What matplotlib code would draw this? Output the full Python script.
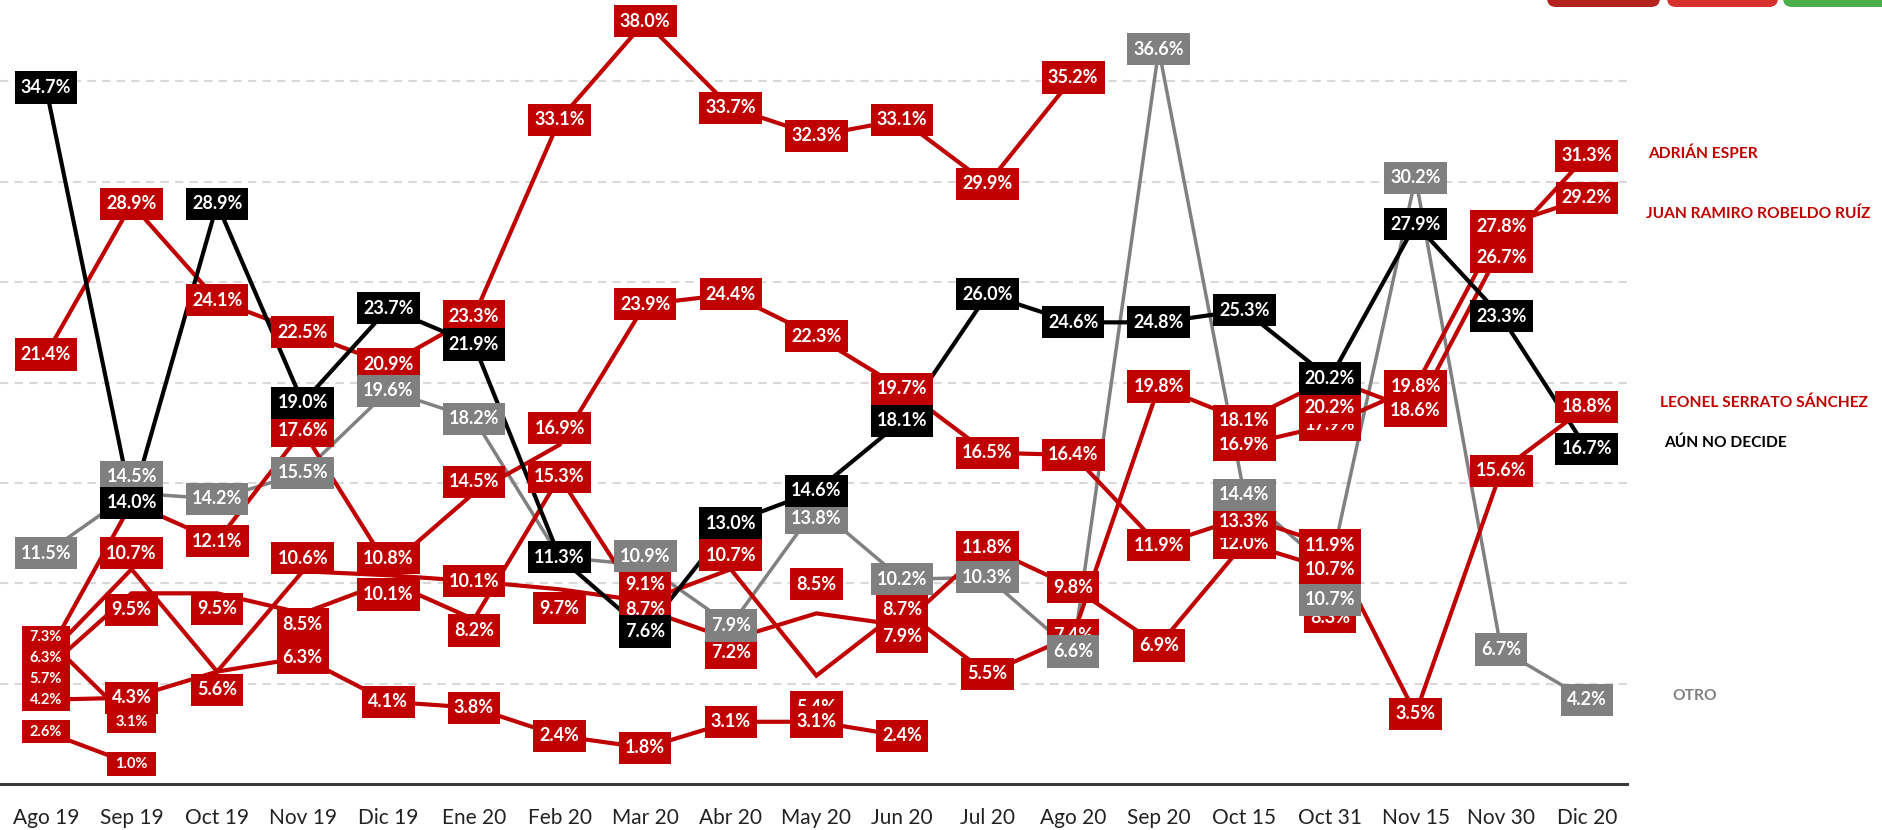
import numpy as np
import matplotlib
matplotlib.use('Agg')
import matplotlib.pyplot as plt
from matplotlib.path import Path
from matplotlib.patches import FancyBboxPatch
from matplotlib.transforms import IdentityTransform

plt.rcParams['font.family'] = ['Lato', 'DejaVu Sans']

nan = np.nan

# fechas de cada levantamiento
fechas = ['Ago 19', 'Sep 19', 'Oct 19', 'Nov 19', 'Dic 19', 'Ene 20', 'Feb 20', 'Mar 20', 'Abr 20',
          'May 20', 'Jun 20', 'Jul 20', 'Ago 20', 'Sep 20', 'Oct 15', 'Oct 31', 'Nov 15', 'Nov 30', 'Dic 20']

# porcentajes por serie (posicion en la grafica)
aun_no_decide = [34.7, 14.0, 28.9, 19.0, 23.7, 21.9, 11.3, 7.6, 13.0, 14.6, 18.1, 24.4, 23.0, 23.0, 23.6, 20.2, 27.9, 23.3, 16.7]
otro = [11.5, 14.5, 14.2, 15.5, 19.6, 18.2, 11.3, 10.9, 7.9, 13.8, 10.2, 10.3, 6.6, 36.6, 14.4, 10.7, 30.2, 6.7, 4.2]
adrian = [6.3, 10.7, 5.6, 10.6, 10.4, 10.1, 9.7, 9.1, 10.7, 5.4, 8.7, 5.5, 7.4, 19.8, 18.1, 20.2, 18.6, 26.7, 31.3]
juan = [nan, nan, nan, nan, nan, nan, nan, nan, nan, nan, nan, nan, nan, nan, 16.9, 17.9, 19.8, 27.8, 29.2]
leonel = [6.3, 14.0, 12.1, 17.6, 10.8, 14.5, 16.9, 23.9, 24.4, 22.3, 19.7, 16.5, 16.4, 11.9, 13.3, 11.9, 3.5, 15.6, 18.8]
rojo_1 = [21.4, 28.9, 24.1, 22.5, 20.9, 23.3, 33.1, 38.0, 33.7, 32.3, 33.1, 29.9, 35.2, nan, nan, nan, nan, nan, nan]
rojo_2 = [5.7, 9.5, 9.5, 8.5, 10.1, 8.2, 15.3, 8.7, 7.2, 8.5, 7.9, 11.8, 9.8, 6.9, 12.0, 10.7, nan, nan, nan]
rojo_3 = [4.2, 4.3, 5.6, 6.3, 4.1, 3.8, 2.4, 1.8, 3.1, 3.1, 2.4, nan, nan, nan, nan, nan, nan, nan, nan]
rojo_4 = [7.3, 3.1, nan, nan, nan, nan, nan, nan, nan, nan, nan, nan, nan, nan, nan, nan, nan, nan, nan]
rojo_5 = [2.6, 1.0, nan, nan, nan, nan, nan, nan, nan, nan, nan, nan, nan, nan, nan, nan, nan, nan, nan]
rojo_6 = [nan, nan, nan, nan, nan, nan, nan, nan, nan, nan, nan, nan, nan, nan, nan, 8.3, nan, nan, nan]

# textos impresos que no coinciden con la altura del punto
texto_aun = {11: '26.0%', 12: '24.6%', 13: '24.8%', 14: '25.3%'}

rojo = '#C00000'
negro = '#000000'
gris = '#808080'

# orden de dibujo (las ultimas quedan encima)
series = [
    ('rojo_1', rojo_1, rojo), ('rojo_4', rojo_4, rojo), ('rojo_5', rojo_5, rojo),
    ('rojo_2', rojo_2, rojo), ('leonel', leonel, rojo), ('juan', juan, rojo),
    ('adrian', adrian, rojo), ('rojo_3', rojo_3, rojo), ('rojo_6', rojo_6, rojo),
    ('otro', otro, gris), ('aun', aun_no_decide, negro),
]

# etiquetas movidas a mano (puntos, + arriba)
desplaza = {
    ('otro', 1): 11.5, ('otro', 7): 6.5, ('otro', 9): -8, ('otro', 15): -22,
    ('adrian', 1): 11.5, ('adrian', 2): -13, ('adrian', 3): 9.5, ('adrian', 6): -13.5,
    ('adrian', 7): 12, ('adrian', 8): 10, ('adrian', 9): -23, ('adrian', 15): -21, ('adrian', 17): -6.5,
    ('rojo_2', 0): -7, ('rojo_2', 1): -12, ('rojo_2', 2): -11, ('rojo_2', 3): -8, ('rojo_2', 4): -9.5,
    ('rojo_2', 5): -8, ('rojo_2', 8): -9.5, ('rojo_2', 9): 21, ('rojo_2', 10): -8,
    ('rojo_3', 2): -13,
    ('leonel', 4): 6.5, ('leonel', 5): 8, ('leonel', 6): 12, ('leonel', 14): -3.5,
}
ocultas = {('adrian', 0), ('adrian', 4)}
chicas = {('leonel', 0), ('rojo_2', 0), ('rojo_3', 0), ('rojo_4', 0), ('rojo_4', 1), ('rojo_5', 0), ('rojo_5', 1)}


def caja(padx, pady):
    def estilo(x0, y0, w, h, mutation_size):
        px, py = padx * mutation_size, pady * mutation_size
        x0, y0 = x0 - px, y0 - py
        x1, y1 = x0 + w + 2 * px, y0 + h + 2 * py
        return Path([(x0, y0), (x1, y0), (x1, y1), (x0, y1), (x0, y0)], closed=True)
    return estilo


fig = plt.figure(figsize=(18.83, 8.30), dpi=100)
ax = fig.add_axes([0, 46 / 830, 1627 / 1883, 784 / 830])
x = np.arange(len(fechas))

orden_lineas = {gris: 2, rojo: 3, negro: 4}
for nombre, valores, color in series:
    v = np.array(valores, dtype=float)
    ax.plot(x, v, color=color, lw=2.5 if color == gris else 3.0, zorder=orden_lineas[color],
            solid_joinstyle='miter')

z = 10
for nombre, valores, color in series:
    for i, v in enumerate(valores):
        if np.isnan(v) or (nombre, i) in ocultas:
            continue
        chica = (nombre, i) in chicas
        texto = f'{v:.1f}%'
        if nombre == 'aun' and i in texto_aun:
            texto = texto_aun[i]
        ax.annotate(texto, (i, v), xytext=(0, desplaza.get((nombre, i), 0)),
                    textcoords='offset points', ha='center', va='center',
                    fontsize=10.5 if chica else 13, fontweight='bold', color='white',
                    bbox=dict(boxstyle=caja(0.55, 0.32) if chica else caja(0.34, 0.42),
                              fc=color, ec='none'),
                    zorder=z, annotation_clip=False)
        z += 0.01

# nombres a la derecha
nombres = [('ADRIÁN ESPER', 18.72, 31.4, rojo), ('JUAN RAMIRO ROBELDO RUÍZ', 18.69, 28.4, rojo),
           ('LEONEL SERRATO SÁNCHEZ', 18.85, 19.0, rojo), ('AÚN NO DECIDE', 18.9, 17.0, negro),
           ('OTRO', 19.0, 4.4, gris)]
for texto, xn, yn, color in nombres:
    ax.text(xn, yn, texto, color=color, fontsize=11.2, fontweight='bold', ha='left', va='center',
            clip_on=False)

ax.set_xlim(-0.537, 18.47)
ax.set_ylim(0, 39.06)
ax.set_xticks(x)
ax.set_xticklabels(fechas, fontsize=15, color='#222222')
ax.set_yticks([5, 10, 15, 20, 25, 30, 35])
ax.set_yticklabels([])
ax.tick_params(axis='both', length=0)
ax.tick_params(axis='x', pad=17)
ax.yaxis.grid(True, color='#D9D9D9', linestyle=(0, (4, 3)), lw=1.5)
ax.set_axisbelow(True)
for lado in ['left', 'right', 'top']:
    ax.spines[lado].set_visible(False)
ax.spines['bottom'].set_color('#3A3A3A')
ax.spines['bottom'].set_linewidth(2.2)

# botones cortados arriba a la derecha
for x0, ancho, color in [(1547, 113, '#B5231F'), (1667, 111, '#D7312E'), (1783, 110, '#4DAF4A')]:
    fig.add_artist(FancyBboxPatch((x0, 823), ancho, 30, boxstyle='round,pad=0,rounding_size=9',
                                  transform=IdentityTransform(), fc=color, ec='none'))

plt.savefig('out.png', dpi=100)
